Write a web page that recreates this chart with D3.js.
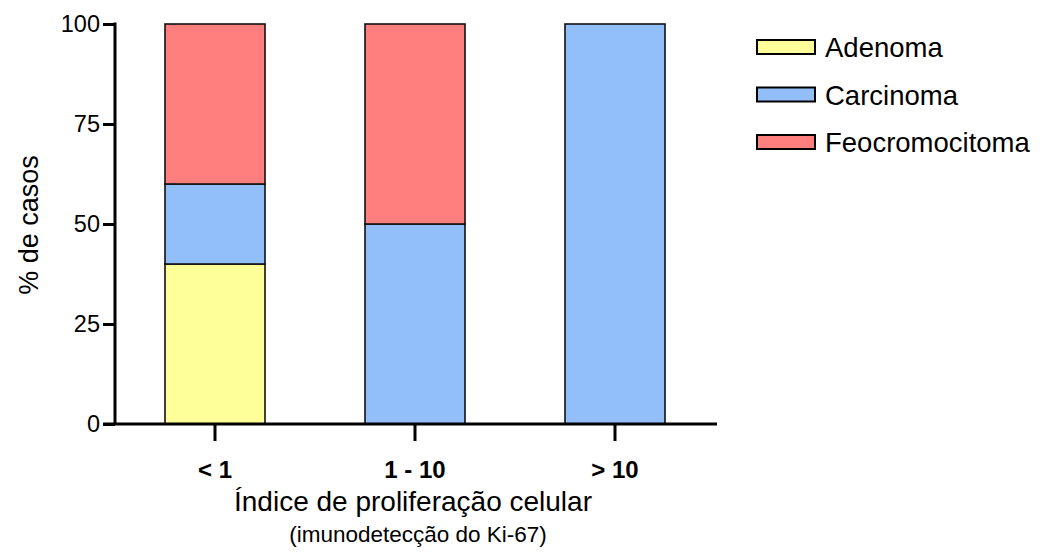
<!DOCTYPE html>
<html><head><meta charset="utf-8">
<script src="https://cdn.jsdelivr.net/npm/d3@7"></script>
<style>body{margin:0;background:#fff}svg{font-family:"Liberation Sans",Arial,sans-serif}</style>
</head><body>
<svg id="c" width="1041" height="554"></svg>
<script>
const categories = ["< 1", "1 - 10", "> 10"];
const series = ["Adenoma", "Carcinoma", "Feocromocitoma"];
const adenoma = [40, 0, 0];
const carcinoma = [20, 50, 100];
const feocromocitoma = [40, 50, 0];
const yTicks = [0, 25, 50, 75, 100];
const colors = ["#FFFF99", "#92BFF9", "#FF7F7F"];

const FF = "Liberation Sans, Arial, sans-serif";
const svg = d3.select("#c");
const x0 = 115, x1 = 715, yTop = 24, yBot = 424;
const x = d3.scaleBand().domain(categories).range([x0, x1]).paddingInner(0.5).paddingOuter(0.25);
const y = d3.scaleLinear().domain([0, 100]).range([yBot, yTop]);

const rows = categories.map((c, i) => ({cat: c, Adenoma: adenoma[i], Carcinoma: carcinoma[i], Feocromocitoma: feocromocitoma[i]}));
const stack = d3.stack().keys(series)(rows);

stack.forEach((layer, k) => {
  svg.append("g").selectAll("rect").data(layer.filter(d => d[1] - d[0] > 0)).join("rect")
    .attr("x", d => x(d.data.cat))
    .attr("width", x.bandwidth())
    .attr("y", d => y(d[1]))
    .attr("height", d => y(d[0]) - y(d[1]))
    .attr("fill", colors[k])
    .attr("stroke", "#111").attr("stroke-width", 1.6);
});

// y axis
const ya = svg.append("g").attr("transform", `translate(${x0},0)`)
  .call(d3.axisLeft(y).tickValues(yTicks).tickSize(12).tickPadding(3).tickSizeOuter(0));
ya.select(".domain").attr("stroke-width", 3).attr("d", `M0,${yBot}V${yTop-1.5}`);
ya.selectAll(".tick line").attr("stroke-width", 3);
ya.selectAll(".tick text").attr("font-size", 23.5).attr("fill", "#000").attr("font-family", FF);

// x axis
const xa = svg.append("g").attr("transform", `translate(0,${yBot})`)
  .call(d3.axisBottom(x).tickSize(17).tickPadding(20).tickSizeOuter(0));
xa.select(".domain").attr("stroke-width", 3).attr("d", `M${x0-12},0H${x1+2}`);
xa.selectAll(".tick line").attr("stroke-width", 3);
xa.selectAll(".tick text").attr("font-size", 24).attr("font-weight", "bold").attr("fill", "#000").attr("font-family", FF);

// axis titles
svg.append("text").attr("x", 413).attr("y", 511).attr("text-anchor", "middle").attr("font-size", 28).text("Índice de proliferação celular");
svg.append("text").attr("x", 418).attr("y", 542).attr("text-anchor", "middle").attr("font-size", 22.5).text("(imunodetecção do Ki-67)");
svg.append("text").attr("transform", "translate(38,225) rotate(-90)").attr("text-anchor", "middle").attr("font-size", 27).text("% de casos");

// legend
const lg = svg.append("g");
series.forEach((s, i) => {
  const cy = 47 + i * 47.5;
  lg.append("rect").attr("x", 757).attr("y", cy - 7).attr("width", 58).attr("height", 14)
    .attr("fill", colors[i]).attr("stroke", "#000").attr("stroke-width", 2);
  lg.append("text").attr("x", 825).attr("y", cy + 10).attr("font-size", 27.5).text(s);
});
</script>
</body></html>
